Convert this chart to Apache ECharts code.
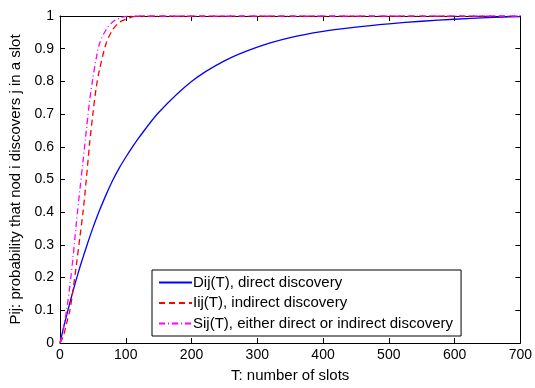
<!DOCTYPE html>
<html>
<head>
<meta charset="utf-8">
<script src="https://cdn.jsdelivr.net/npm/echarts@6/dist/echarts.min.js"></script>
<style>
  html, body { margin: 0; padding: 0; background: #fff; }
  #chart { width: 535px; height: 388px; }
</style>
</head>
<body>
<div id="chart"></div>
<script>
var slots = [0, 5, 10, 15, 20, 25, 30, 35, 40, 45, 50, 55, 60, 70, 80, 90, 100, 110, 120, 150, 200, 250, 300, 350, 400, 450, 500, 550, 600, 650, 700];
// Dij(T), direct discovery
var direct = [0, 0.043, 0.084, 0.123, 0.16, 0.196, 0.23, 0.262, 0.293, 0.323, 0.352, 0.379, 0.405, 0.453, 0.497, 0.535, 0.568, 0.599, 0.628, 0.705, 0.80, 0.863, 0.905, 0.934, 0.953, 0.966, 0.976, 0.984, 0.99, 0.995, 0.998];
// Iij(T), indirect discovery
var indirect = [0, 0.02, 0.06, 0.10, 0.165, 0.24, 0.32, 0.40, 0.50, 0.61, 0.70, 0.78, 0.835, 0.915, 0.958, 0.98, 0.99, 0.997, 1, 1, 1, 1, 1, 1, 1, 1, 1, 1, 1, 1, 1];
// Sij(T), either direct or indirect discovery
var either = [0, 0.045, 0.10, 0.175, 0.265, 0.37, 0.465, 0.555, 0.65, 0.74, 0.81, 0.87, 0.915, 0.958, 0.982, 0.993, 0.999, 1, 1, 1, 1, 1, 1, 1, 1, 1, 1, 1, 1, 1, 1];
var names = ['Dij(T), direct discovery', 'Iij(T), indirect discovery', 'Sij(T), either direct or indirect discovery'];

function pairs(vals) {
  return slots.map(function (t, i) { return [t, vals[i]]; });
}

var font = 'Liberation Sans, Arial, Helvetica, sans-serif';
var mychart = echarts.init(document.getElementById('chart'));

var xCommon = {
  type: 'value', min: 0, max: 700, interval: 100,
  axisLine: { show: true, onZero: false, lineStyle: { color: '#000', width: 1 } },
  axisTick: { show: true, inside: true, length: 5, lineStyle: { color: '#000' } },
  splitLine: { show: false }
};
var yCommon = {
  type: 'value', min: 0, max: 1, interval: 0.1,
  axisLine: { show: true, onZero: false, lineStyle: { color: '#000', width: 1 } },
  axisTick: { show: true, inside: true, length: 5, lineStyle: { color: '#000' } },
  splitLine: { show: false }
};

var option = {
  animation: false,
  backgroundColor: '#fff',
  grid: { left: 55, right: 13, top: 16, bottom: 35, containLabel: false },
  xAxis: [
    Object.assign({}, xCommon, {
      position: 'bottom',
      name: 'T: number of slots', nameLocation: 'middle', nameGap: 25,
      nameTextStyle: { color: '#000', fontSize: 15, fontFamily: font },
      axisLabel: { color: '#000', fontSize: 14, fontFamily: font, margin: 5 }
    }),
    Object.assign({}, xCommon, { position: 'top', axisLabel: { show: false } })
  ],
  yAxis: [
    Object.assign({}, yCommon, {
      position: 'left',
      name: 'Pij: probability that nod i discovers j in a slot', nameLocation: 'middle', nameGap: 37,
      nameTextStyle: { color: '#000', fontSize: 15, fontFamily: font },
      axisLabel: {
        color: '#000', fontSize: 14, fontFamily: font, margin: 6,
        formatter: function (v) { return String(Math.round(v * 10) / 10); }
      }
    }),
    Object.assign({}, yCommon, { position: 'right', axisLabel: { show: false } })
  ],
  legend: {
    left: 152, top: 270, orient: 'vertical',
    backgroundColor: '#fff', borderColor: '#000', borderWidth: 1,
    padding: [5, 8, 5, 6], itemGap: 5.5, itemWidth: 33, itemHeight: 14,
    itemStyle: { opacity: 0 },
    textStyle: { color: '#000', fontSize: 15, fontFamily: font, padding: [0, 0, 0, -4] },
    data: names
  },
  series: [
    {
      name: names[0], type: 'line', data: pairs(direct), symbol: 'none', smooth: 0.3,
      lineStyle: { color: '#0000ff', width: 1.3, type: 'solid' }, itemStyle: { color: '#0000ff' }
    },
    {
      name: names[1], type: 'line', data: pairs(indirect), symbol: 'none', smooth: 0.3,
      lineStyle: { color: '#ff0000', width: 1.3, type: [6, 4] }, itemStyle: { color: '#ff0000' }
    },
    {
      name: names[2], type: 'line', data: pairs(either), symbol: 'none', smooth: 0.3,
      lineStyle: { color: '#ff00ff', width: 1.3, type: [6, 3, 1, 3] }, itemStyle: { color: '#ff00ff' }
    }
  ]
};
mychart.setOption(option);
</script>
</body>
</html>
